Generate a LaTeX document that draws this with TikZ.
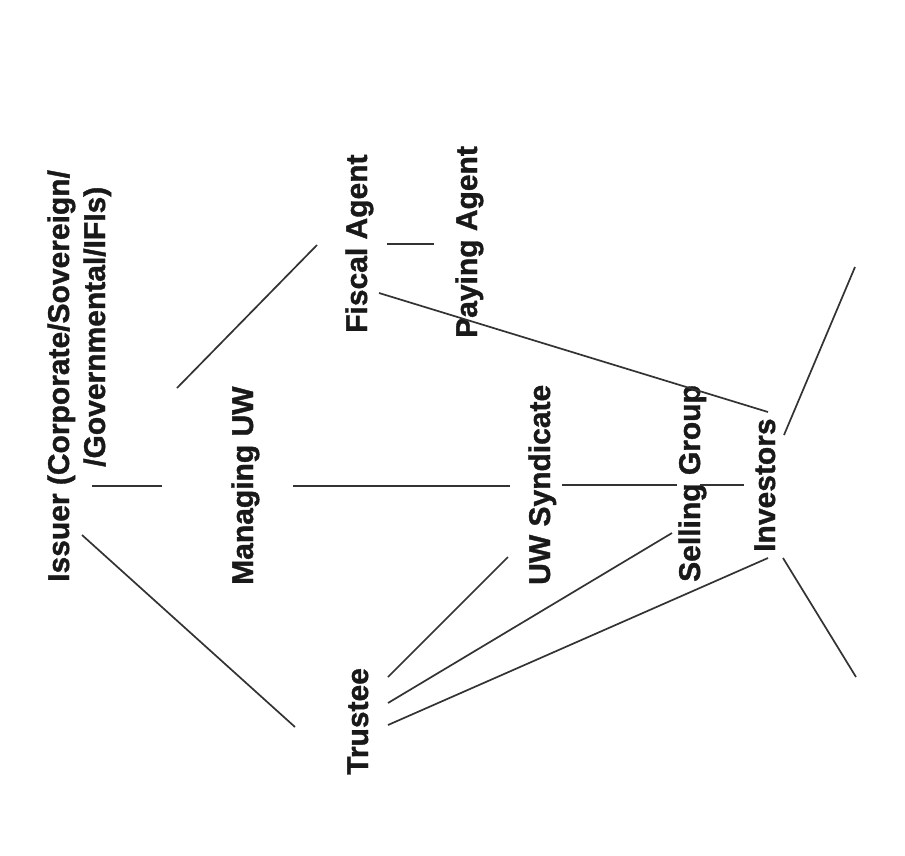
\documentclass[tikz,border=0pt]{standalone}
\usepackage{fontspec}
\setmainfont[BoldFeatures={FakeBold=1.2}]{Liberation Sans}

\begin{document}
\begin{tikzpicture}[x=1pt,y=-1pt,
  lbl/.style={rotate=90,anchor=base west,inner sep=0pt,text=black!90,
    font=\bfseries\fontsize{30}{36}\selectfont},
  link/.style={draw=black!80,line width=1.7pt}]
\useasboundingbox[fill=white] (0,0) rectangle (905,855);
% The parties, read from bottom to top
\node[lbl] (issuer) at (69,582) {Issuer (Corporate/Sovereign/};
\node[lbl] (issuerb) at (105,467) {/Governmental/IFIs)};
\node[lbl] (managing) at (253,585) {Managing UW};
\node[lbl] (fiscal) at (367,333) {Fiscal Agent};
\node[lbl] (paying) at (477,338) {Paying Agent};
\node[lbl] (trustee) at (368,775) {Trustee};
\node[lbl] (syndicate) at (550,585) {UW Syndicate};
\node[lbl] (selling) at (700,582) {Selling Group};
\node[lbl] (investors) at (775,552) {Investors};
% Loose ends on the right of the investors
\coordinate (upper) at (855,267);
\coordinate (lower) at (856,677);
% Issuer to managing UW and to trustee
\draw[link] ([shift={(23,-96)}]issuer.base west) -- ([shift={(-91,-99)}]managing.base west);
\draw[link] ([shift={(13,-47)}]issuer.base west) -- ([shift={(-73,-48)}]trustee.base west);
% Managing UW on to fiscal agent and syndicate
\draw[link] ([shift={(-76,-197)}]managing.base west) -- ([shift={(-50,-88)}]fiscal.base west);
\draw[link] ([shift={(40,-99)}]managing.base west) -- ([shift={(-40,-99)}]syndicate.base west);
% Fiscal agent
\draw[link] ([shift={(20,-89)}]fiscal.base west) -- ([shift={(-43,-94)}]paying.base west);
\draw[link] ([shift={(12,-40)}]fiscal.base west) -- ([shift={(-7,-140)}]investors.base west);
% Trustee fans out
\draw[link] ([shift={(20,-98)}]trustee.base west) -- ([shift={(-42,-28)}]syndicate.base west);
\draw[link] ([shift={(20,-72)}]trustee.base west) -- ([shift={(-28,-49)}]selling.base west);
\draw[link] ([shift={(20,-50)}]trustee.base west) -- ([shift={(-7,6)}]investors.base west);
% Down the distribution chain
\draw[link] ([shift={(12,-100)}]syndicate.base west) -- ([shift={(-23,-97)}]selling.base west);
\draw[link] ([shift={(0,-97)}]selling.base west) -- ([shift={(-31,-67)}]investors.base west);
% Investors
\draw[link] ([shift={(9,-117)}]investors.base west) -- (upper);
\draw[link] ([shift={(8,6)}]investors.base west) -- (lower);
\end{tikzpicture}
\end{document}
